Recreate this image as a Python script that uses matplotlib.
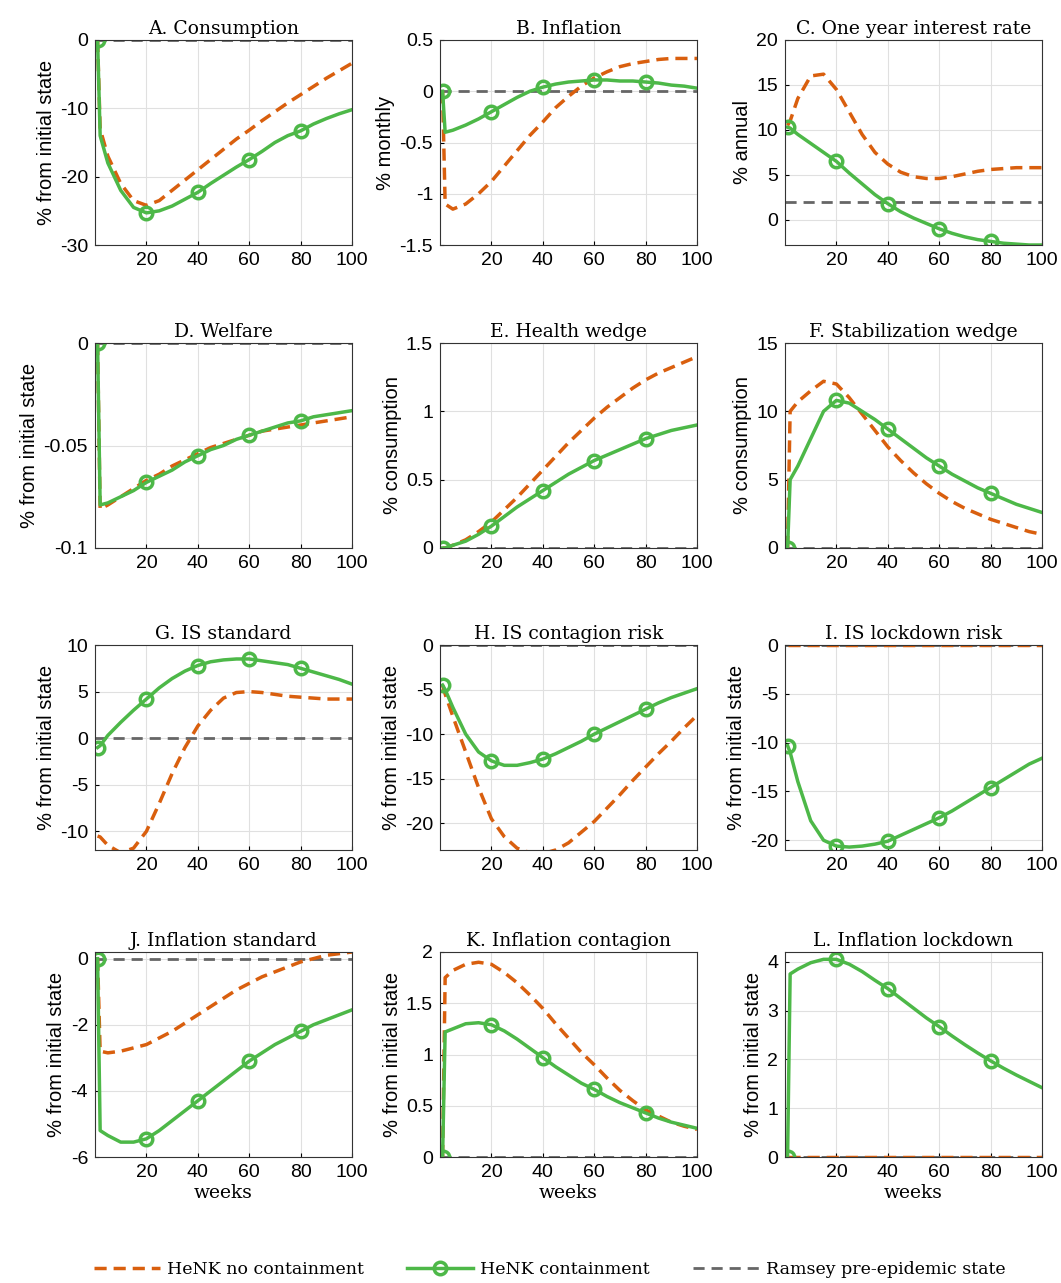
import numpy as np
import matplotlib.pyplot as plt

weeks = [1, 2, 5, 10, 15, 20, 25, 30, 35, 40, 45, 50, 55, 60, 65, 70, 75, 80, 85, 90, 95, 100]

titles = ['A. Consumption', 'B. Inflation', 'C. One year interest rate',
          'D. Welfare', 'E. Health wedge', 'F. Stabilization wedge',
          'G. IS standard', 'H. IS contagion risk', 'I. IS lockdown risk',
          'J. Inflation standard', 'K. Inflation contagion', 'L. Inflation lockdown']
ylabels = ['% from initial state', '% monthly', '% annual',
           '% from initial state', '% consumption', '% consumption',
           '% from initial state', '% from initial state', '% from initial state',
           '% from initial state', '% from initial state', '% from initial state']

green = [
    [0, -14, -18, -22, -24.5, -25.3, -25, -24.3, -23.3, -22.3, -21, -19.8, -18.6, -17.5, -16.3, -15, -14, -13.3, -12.3, -11.5, -10.8, -10.2],
    [0, -0.4, -0.38, -0.33, -0.27, -0.2, -0.13, -0.06, 0.0, 0.04, 0.07, 0.09, 0.1, 0.11, 0.11, 0.1, 0.1, 0.09, 0.08, 0.06, 0.05, 0.03],
    [10.3, 10.2, 9.5, 8.5, 7.5, 6.5, 5.2, 4, 2.8, 1.8, 0.9, 0.2, -0.4, -1, -1.5, -1.9, -2.2, -2.4, -2.6, -2.7, -2.8, -2.8],
    [0, -0.079, -0.078, -0.075, -0.072, -0.068, -0.065, -0.062, -0.058, -0.055, -0.052, -0.05, -0.047, -0.045, -0.043, -0.041, -0.039, -0.038, -0.036, -0.035, -0.034, -0.033],
    [0, 0.0, 0.02, 0.05, 0.1, 0.16, 0.23, 0.3, 0.36, 0.42, 0.48, 0.54, 0.59, 0.64, 0.68, 0.72, 0.76, 0.8, 0.83, 0.86, 0.88, 0.9],
    [0, 5, 6, 8, 10, 10.8, 10.6, 10, 9.4, 8.7, 8, 7.3, 6.6, 6, 5.4, 4.9, 4.4, 4, 3.6, 3.2, 2.9, 2.6],
    [-1, -0.8, 0.3, 1.7, 3, 4.2, 5.4, 6.4, 7.2, 7.8, 8.2, 8.4, 8.5, 8.5, 8.3, 8.1, 7.9, 7.5, 7.1, 6.7, 6.3, 5.8],
    [-4.5, -5, -7, -10, -12, -13, -13.5, -13.5, -13.2, -12.8, -12.2, -11.5, -10.8, -10, -9.3, -8.6, -7.9, -7.2, -6.5, -5.9, -5.4, -4.9],
    [-10.3, -11, -14, -18, -20, -20.6, -20.7, -20.6, -20.4, -20.1, -19.5, -18.9, -18.3, -17.7, -17, -16.2, -15.4, -14.6, -13.8, -13, -12.2, -11.6],
    [0, -5.2, -5.35, -5.55, -5.55, -5.45, -5.2, -4.9, -4.6, -4.3, -4.0, -3.7, -3.4, -3.1, -2.85, -2.6, -2.4, -2.2, -2.0, -1.85, -1.7, -1.55],
    [0, 1.22, 1.25, 1.3, 1.31, 1.29, 1.23, 1.15, 1.06, 0.97, 0.88, 0.8, 0.72, 0.66, 0.59, 0.53, 0.48, 0.43, 0.38, 0.34, 0.31, 0.28],
    [0, 3.75, 3.85, 3.98, 4.05, 4.05, 3.95, 3.8, 3.62, 3.45, 3.25, 3.05, 2.85, 2.67, 2.48, 2.3, 2.13, 1.97, 1.82, 1.68, 1.55, 1.42],
]

orange = [
    [0, -13, -17, -21, -23.5, -24.2, -23.5, -22, -20.5, -19, -17.5, -16, -14.5, -13.2, -11.8, -10.5, -9.2, -8, -6.8, -5.6, -4.5, -3.4],
    [0, -1.1, -1.15, -1.1, -1.0, -0.88, -0.73, -0.58, -0.43, -0.3, -0.16, -0.05, 0.05, 0.13, 0.19, 0.24, 0.27, 0.29, 0.31, 0.32, 0.32, 0.32],
    [10.5, 11, 13.5, 16, 16.2, 14.5, 12, 9.5, 7.5, 6.2, 5.3, 4.8, 4.6, 4.6, 4.8, 5.1, 5.4, 5.6, 5.7, 5.8, 5.8, 5.8],
    [0, -0.081, -0.079, -0.075, -0.071, -0.067, -0.064, -0.06, -0.057, -0.054, -0.051, -0.049, -0.047, -0.045, -0.043, -0.042, -0.041, -0.04, -0.039, -0.038, -0.037, -0.036],
    [0, 0, 0.02, 0.06, 0.12, 0.19, 0.28, 0.37, 0.47, 0.57, 0.67, 0.77, 0.86, 0.95, 1.03, 1.1, 1.17, 1.23, 1.28, 1.32, 1.36, 1.4],
    [0, 10, 10.7, 11.5, 12.2, 12, 11, 9.8, 8.6, 7.4, 6.4, 5.5, 4.7, 4.0, 3.4, 2.9, 2.5, 2.1, 1.8, 1.5, 1.2, 1.0],
    [-10.5, -10.6, -11.5, -12.3, -11.8, -10, -7, -3.8, -1, 1.3, 3, 4.3, 4.9, 5, 4.9, 4.7, 4.5, 4.4, 4.3, 4.2, 4.2, 4.2],
    [-4.5, -5.5, -8, -12, -16, -19.5, -21.5, -22.8, -23.3, -23.4, -23, -22.2, -21, -19.8, -18.3, -16.8, -15.2, -13.7, -12.2, -10.8, -9.3, -7.9],
    [0] * 22,
    [0, -2.8, -2.85, -2.8, -2.7, -2.6, -2.4, -2.2, -1.95, -1.7, -1.45, -1.2, -0.95, -0.75, -0.55, -0.4, -0.25, -0.1, 0, 0.1, 0.15, 0.2],
    [0, 1.75, 1.82, 1.88, 1.9, 1.88, 1.8, 1.7, 1.58, 1.45, 1.3, 1.16, 1.02, 0.9, 0.77, 0.65, 0.55, 0.46, 0.4, 0.34, 0.3, 0.27],
    [0] * 22,
]

ramsey = [0, 0, 2, 0, 0, 0, 0, 0, 0, 0, 0, 0]
ylims = [(-30, 0), (-1.5, 0.5), (-2.8, 20), (-0.1, 0), (0, 1.5), (0, 15),
         (-12, 10), (-23, 0), (-21, 0), (-6, 0.2), (0, 2), (0, 4.2)]
yticks = [[-30, -20, -10, 0], [-1.5, -1, -0.5, 0, 0.5], [0, 5, 10, 15, 20],
          [-0.1, -0.05, 0], [0, 0.5, 1, 1.5], [0, 5, 10, 15],
          [-10, -5, 0, 5, 10], [-20, -15, -10, -5, 0], [-20, -15, -10, -5, 0],
          [-6, -4, -2, 0], [0, 0.5, 1, 1.5, 2], [0, 1, 2, 3, 4]]

c_or = '#d95f0e'
c_gr = '#4db848'
c_gy = '#666666'

plt.rcParams['font.family'] = ['Liberation Sans', 'DejaVu Sans']
plt.rcParams['axes.unicode_minus'] = False

fig = plt.figure(figsize=(10.61, 12.83), dpi=100)
W, H = 1061, 1283
lefts = [95, 440, 785]
tops = [40, 343, 645, 952]
aw, ah = 257, 205

marks = [0, 5, 9, 13, 17]
for i in range(12):
    r, c = divmod(i, 3)
    ax = fig.add_axes([lefts[c] / W, 1 - (tops[r] + ah) / H, aw / W, ah / H])
    ax.axhline(ramsey[i], color=c_gy, lw=2, ls=(0, (4, 2.5)))
    ax.plot(weeks, orange[i], color=c_or, lw=2.5, ls=(0, (3.5, 2)))
    ax.plot(weeks, green[i], color=c_gr, lw=2.5, marker='o', markevery=marks,
            ms=9, mfc='none', mew=2.5)
    ax.set_xlim(0, 100)
    ax.set_xticks([20, 40, 60, 80, 100])
    ax.set_ylim(*ylims[i])
    ax.set_yticks(yticks[i])
    ax.set_yticklabels(['%g' % v for v in yticks[i]])
    ax.grid(True, color='#e0e0e0', lw=0.8)
    ax.tick_params(labelsize=14, length=3, direction='in', pad=5)
    for s in ax.spines.values():
        s.set_color('#333333')
        s.set_linewidth(0.8)
    ax.set_title(titles[i], fontsize=13.5, family='DejaVu Serif', pad=4)
    ax.set_ylabel(ylabels[i], fontsize=14.5, labelpad=3)
    if r == 3:
        ax.set_xlabel('weeks', fontsize=13.5, family='DejaVu Serif', labelpad=2)

handles = [
    plt.Line2D([], [], color=c_or, lw=2.5, ls=(0, (3.5, 2))),
    plt.Line2D([], [], color=c_gr, lw=2.5, marker='o', ms=9, mfc='none', mew=2.5),
    plt.Line2D([], [], color=c_gy, lw=2, ls=(0, (4, 2.5))),
]
fig.legend(handles, ['HeNK no containment', 'HeNK containment', 'Ramsey pre-epidemic state'],
           loc='center', bbox_to_anchor=(0.518, 1 - 1270 / H), ncol=3, frameon=False,
           prop={'family': 'DejaVu Serif', 'size': 12.5}, handlelength=3.8,
           handletextpad=0.4, columnspacing=2.5)

fig.savefig('out.png', dpi=100)
